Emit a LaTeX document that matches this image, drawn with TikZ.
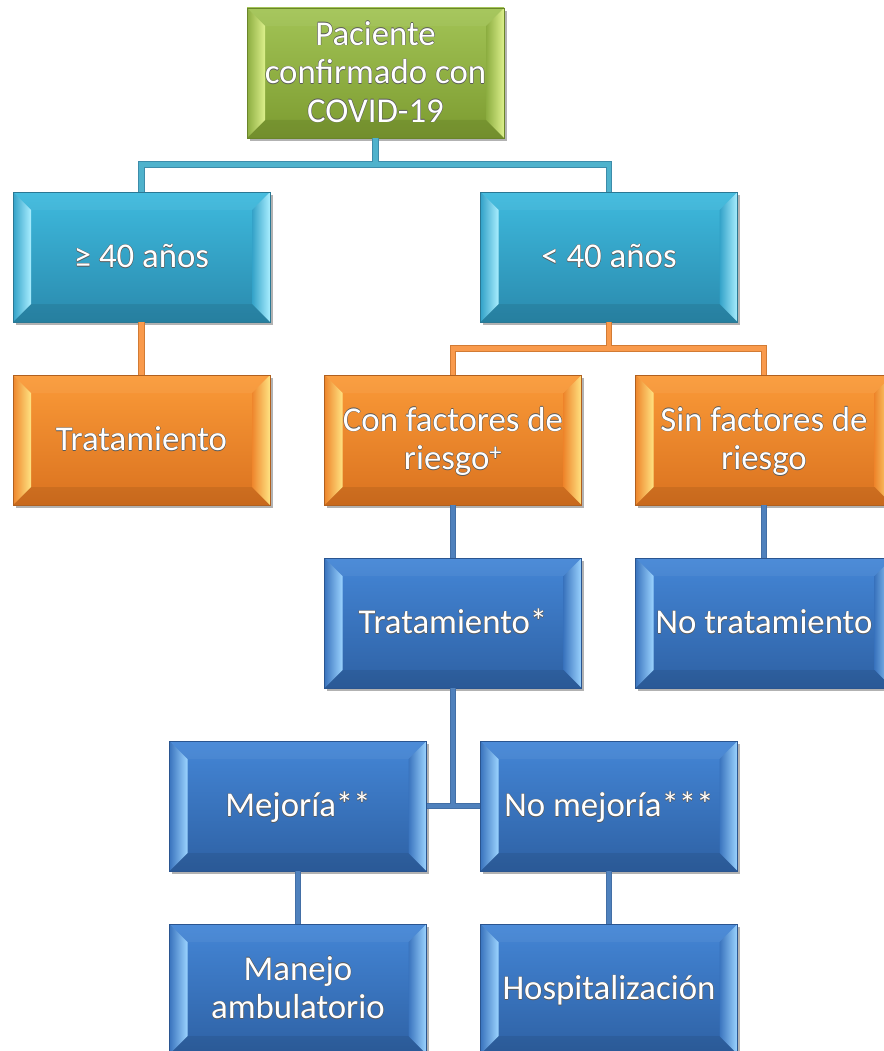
\documentclass[tikz,border=0pt]{standalone}
\usepackage{fontspec}
\setmainfont{Carlito}
\usetikzlibrary{shadows}

% box palettes: Top / Bot (face gradient), Edge, Base and Light (bevels)
\definecolor{grnTop}{HTML}{A3C456}
\definecolor{grnBot}{HTML}{7C9B30}
\definecolor{grnEdge}{HTML}{6A8529}
\definecolor{grnBase}{HTML}{8CAD40}
\definecolor{grnLight}{HTML}{DDF08C}
\definecolor{tealTop}{HTML}{3EBADE}
\definecolor{tealBot}{HTML}{2A8AAD}
\definecolor{tealEdge}{HTML}{2A7894}
\definecolor{tealBase}{HTML}{33A2C8}
\definecolor{tealLight}{HTML}{A9EEFF}
\definecolor{orgTop}{HTML}{FA9A38}
\definecolor{orgBot}{HTML}{DA721F}
\definecolor{orgEdge}{HTML}{B0601F}
\definecolor{orgBase}{HTML}{EE862C}
\definecolor{orgLight}{HTML}{FFE382}
\definecolor{bluTop}{HTML}{4486D6}
\definecolor{bluBot}{HTML}{2E61A4}
\definecolor{bluEdge}{HTML}{2A5590}
\definecolor{bluBase}{HTML}{3A74BE}
\definecolor{bluLight}{HTML}{9CD4FF}
\definecolor{halo}{HTML}{5A5A5A}
% connector colours
\definecolor{tealLine}{HTML}{4FB2CC}
\definecolor{tealLineEdge}{HTML}{3D8CAA}
\definecolor{orgLine}{HTML}{F99A4C}
\definecolor{orgLineEdge}{HTML}{D27B34}
\definecolor{bluLine}{HTML}{4F81BD}
\definecolor{bluLineEdge}{HTML}{436FA6}

% white label with a thin grey outline
\newcommand\lblrows[1]{\begin{tabular}{@{}c@{}}#1\end{tabular}}
\newcommand\lbl[1]{%
  \leavevmode\raisebox{-3pt}[\height][\depth]{%
  \rlap{\kern-0.5pt\color{halo}\lblrows{#1}}%
  \rlap{\kern0.5pt\color{halo}\lblrows{#1}}%
  \rlap{\color{halo}\raisebox{0.5pt}{\lblrows{#1}}}%
  \rlap{\color{halo}\raisebox{-0.5pt}{\lblrows{#1}}}%
  \color{white}\lblrows{#1}}}

\tikzset{
  box/.style={rectangle, minimum width=257pt, minimum height=130pt, inner sep=0pt,
    top color=#1Top, bottom color=#1Bot, draw=#1Edge, line width=0.8pt,
    text=white, font=\fontsize{34.8}{38.5}\selectfont,
    drop shadow={shadow xshift=2.5pt, shadow yshift=-3pt, opacity=0.3, fill=black},
    path picture={
      \path (path picture bounding box.north west) coordinate (bnw)
            (path picture bounding box.north east) coordinate (bne)
            (path picture bounding box.south west) coordinate (bsw)
            (path picture bounding box.south east) coordinate (bse);
      \path ([shift={(18pt,-18pt)}]bnw) coordinate (inw)
            ([shift={(-18pt,-18pt)}]bne) coordinate (ine)
            ([shift={(18pt,18pt)}]bsw) coordinate (isw)
            ([shift={(-18pt,18pt)}]bse) coordinate (ise);
      \shade[left color=#1Base, right color=#1Light] (bnw) -- (inw) -- (isw) -- (bsw) -- cycle;
      \shade[left color=#1Base, right color=#1Light] (ine) -- (bne) -- (bse) -- (ise) -- cycle;
      \fill[white, opacity=0.05] (bnw) -- (bne) -- (ine) -- (inw) -- cycle;
      \fill[black, opacity=0.08] (bsw) -- (bse) -- (ise) -- (isw) -- cycle;
    }},
  conn/.style 2 args={line width=4.6pt, draw=#1, preaction={draw=#2, line width=6.4pt}},
}

\begin{document}
\begin{tikzpicture}[x=1pt, y=-1pt]
  \fill[white] (0,0) rectangle (883,1051);
  \useasboundingbox (0,0) rectangle (883,1051);

  % level 1
  \node[box=grn]  (top)    at (375.5,73)  {\lbl{Paciente\\confirmado con\\COVID-19}};
  % age groups
  \node[box=teal] (ge40)   at (141.5,257) {\lbl{≥ 40 años}};
  \node[box=teal] (lt40)   at (609,257)   {\lbl{< 40 años}};
  % risk factors
  \node[box=org]  (trat)   at (141.5,440) {\lbl{Tratamiento}};
  \node[box=org]  (con)    at (453,440)   {\lbl{Con factores de\\riesgo\textsuperscript{+}}};
  \node[box=org]  (sin)    at (764,440)   {\lbl{Sin factores de\\riesgo}};
  % treatment
  \node[box=blu]  (trat2)  at (453,623)   {\lbl{Tratamiento*}};
  \node[box=blu]  (notrat) at (764,623)   {\lbl{No tratamiento}};
  % evolution
  \node[box=blu]  (mej)    at (298,806)   {\lbl{Mejoría**}};
  \node[box=blu]  (nomej)  at (609,806)   {\lbl{No mejoría***}};
  % outcome
  \node[box=blu]  (manejo) at (298,989)   {\lbl{Manejo\\ambulatorio}};
  \node[box=blu]  (hosp)   at (609,989)   {\lbl{Hospitalización}};

  % connectors
  \draw[conn={tealLine}{tealLineEdge}]
    (top.south) -- ++(0,26) coordinate (tbus) -| (ge40.north)
    (tbus) -| (lt40.north);
  \draw[conn={orgLine}{orgLineEdge}] (ge40.south) -- (trat.north);
  \draw[conn={orgLine}{orgLineEdge}]
    (lt40.south) -- ++(0,26) coordinate (obus) -| (con.north)
    (obus) -| (sin.north);
  \draw[conn={bluLine}{bluLineEdge}] (con.south) -- (trat2.north);
  \draw[conn={bluLine}{bluLineEdge}] (sin.south) -- (notrat.north);
  \draw[conn={bluLine}{bluLineEdge}]
    (trat2.south) |- (mej.east)
    (trat2.south) |- (nomej.west);
  \draw[conn={bluLine}{bluLineEdge}] (mej.south) -- (manejo.north);
  \draw[conn={bluLine}{bluLineEdge}] (nomej.south) -- (hosp.north);
\end{tikzpicture}
\end{document}
